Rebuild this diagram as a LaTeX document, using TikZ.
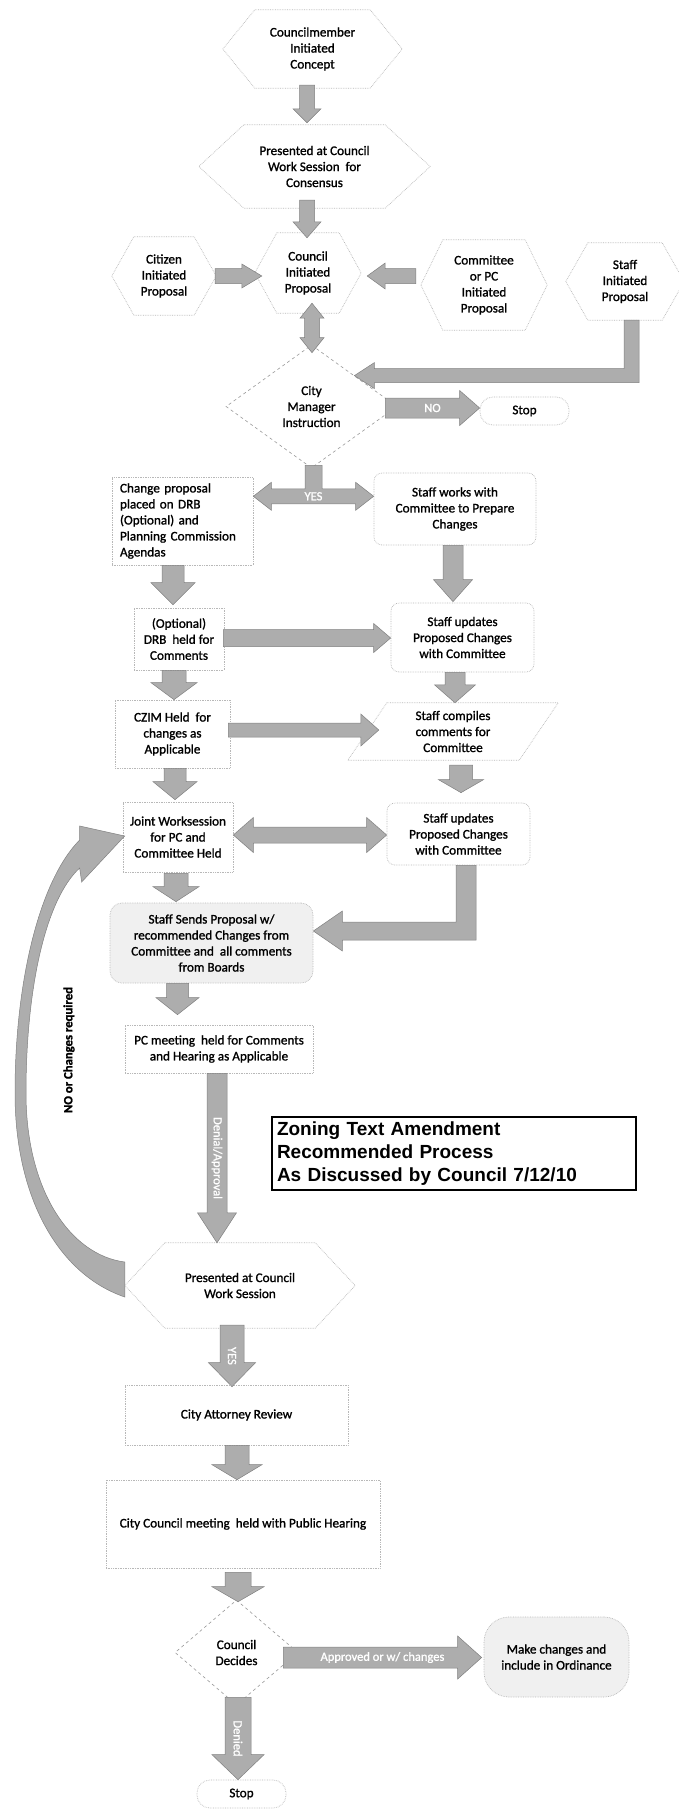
\documentclass[tikz,border=0pt]{standalone}
\usepackage{fontspec}
\setmainfont{Carlito}[FakeBold=1.2]
\newfontfamily\titlefont{Liberation Sans}
\usetikzlibrary{calc,shapes.geometric}

\tikzset{
 nodeline/.style={draw=black!28, densely dotted, line width=0.7pt},
 box/.style={nodeline, align=center, inner sep=2pt, fill=white},
 rbox/.style={box, rounded corners=8pt},
 hextext/.style={align=center, inner sep=0pt},
 plain/.style={align=center, inner sep=0pt},
 dia/.style={diamond, draw=black!40, dashed, line width=0.6pt, align=center, inner sep=0pt, fill=white},
 stopbox/.style={nodeline, rounded corners=13pt, inner sep=0pt, fill=white},
 barrow/.style={fill=black!32, draw=black!50, line width=0.5pt},
 arrlabel/.style={text=white, font=\fontsize{12.5}{14}\selectfont, inner sep=0pt},
 titlebox/.style={draw=black, line width=2pt, font=\titlefont\bfseries\fontsize{19}{23}\selectfont, align=left, text width=354pt, inner xsep=5pt, minimum height=73pt, fill=white},
}

\newcommand\hexnode[7]{%
  \node[hextext, minimum width=#4pt, minimum height=#5pt] (#1) at (#2,#3) {#7};
  \draw[nodeline] ([xshift=#6pt]#1.north west) -- ([xshift=-#6pt]#1.north east) -- (#1.east) -- ([xshift=-#6pt]#1.south east) -- ([xshift=#6pt]#1.south west) -- (#1.west) -- cycle;
}

\newcommand\blkarrow[6]{%
  \path #1 coordinate (bkS) #2 coordinate (bkE);
  \pgfpointdiff{\pgfpointanchor{bkS}{center}}{\pgfpointanchor{bkE}{center}}%
  \pgfgetlastxy{\bkdx}{\bkdy}%
  \pgfmathsetmacro{\bkL}{veclen(\bkdx,\bkdy)}%
  \pgfmathsetmacro{\bkA}{atan2(\bkdy,\bkdx)}%
  \pgfmathsetmacro{\bkB}{\bkL-#5}%
  \draw[barrow, shift={(bkS)}, rotate=\bkA] (0,-#3/2) -- (\bkB,-#3/2) -- (\bkB,-#4/2) -- (\bkL,0) -- (\bkB,#4/2) -- (\bkB,#3/2) -- (0,#3/2) -- cycle;
  \node[arrlabel, rotate=\bkA] at ($(bkS)!0.5!(bkE)$) {#6};
}

\newcommand\dblkarrow[6]{%
  \path #1 coordinate (bkS) #2 coordinate (bkE);
  \pgfpointdiff{\pgfpointanchor{bkS}{center}}{\pgfpointanchor{bkE}{center}}%
  \pgfgetlastxy{\bkdx}{\bkdy}%
  \pgfmathsetmacro{\bkL}{veclen(\bkdx,\bkdy)}%
  \pgfmathsetmacro{\bkA}{atan2(\bkdy,\bkdx)}%
  \pgfmathsetmacro{\bkB}{\bkL-#5}%
  \draw[barrow, shift={(bkS)}, rotate=\bkA] (0,0) -- (#5,-#4/2) -- (#5,-#3/2) -- (\bkB,-#3/2) -- (\bkB,-#4/2) -- (\bkL,0) -- (\bkB,#4/2) -- (\bkB,#3/2) -- (#5,#3/2) -- (#5,#4/2) -- cycle;
  \node[arrlabel, rotate=\bkA] at ($(bkS)!0.5!(bkE)$) {#6};
}

\begin{document}
\begin{tikzpicture}[x=1pt,y=-1pt, every node/.style={font=\fontsize{13.2}{16}\selectfont}]
\useasboundingbox (0,0) rectangle (678,1812);
\fill[white] (0,0) rectangle (678,1812);

% ---------- nodes ----------
\hexnode{cic}{312.5}{49}{179}{78}{32}{Councilmember\\Initiated\\Concept}
\hexnode{pcs}{314.5}{166.5}{231}{83}{45}{Presented at Council\\Work Session\ \ for\\Consensus}
\hexnode{cip}{164}{276}{104}{78}{22}{Citizen\\Initiated\\Proposal}
\hexnode{cop}{308}{273}{106}{80}{22}{Council\\Initiated\\Proposal}
\hexnode{cmp}{484}{285}{126}{90}{22}{Committee\\or PC\\Initiated\\Proposal}
\hexnode{sip}{625}{281.5}{118}{77}{22}{Staff\\Initiated\\Proposal}

\node[dia, minimum width=171pt, minimum height=123pt] (cmi) at (311.5,406.5) {City\\Manager\\Instruction};
\node[stopbox, minimum width=89pt, minimum height=28pt] (stop1) at (524.5,411) {Stop};

\node[box, minimum width=141pt, minimum height=88pt, align=left, text width=125pt, inner xsep=8pt] (cpa) at (182.5,521) {Change proposal\\placed on DRB\\(Optional) and\\Planning Commission\\Agendas};
\node[rbox, minimum width=162pt, minimum height=72pt] (swc) at (455,509) {Staff works with\\Committee to Prepare\\Changes};

\node[box, minimum width=90pt, minimum height=62pt] (drb) at (179,639) {(Optional)\\DRB\ \ held for\\Comments};
\node[rbox, minimum width=143pt, minimum height=69pt] (su1) at (462.5,637.5) {Staff updates\\Proposed Changes\\with Committee};

\node[box, minimum width=115pt, minimum height=68pt] (czim) at (172.5,734) {CZIM Held\ \ for\\changes as\\Applicable};
\node[plain, minimum width=210pt, minimum height=57pt] (sc) at (453,731.5) {Staff compiles\\comments for\\Committee};
\draw[nodeline] ([xshift=39pt]sc.north west) -- (sc.north east) -- ([xshift=-39pt]sc.south east) -- (sc.south west) -- cycle;

\node[box, minimum width=110pt, minimum height=70pt] (jw) at (178,837) {Joint Worksession\\for PC and\\Committee Held};
\node[rbox, minimum width=143pt, minimum height=62pt] (su2) at (458.5,834) {Staff updates\\Proposed Changes\\with Committee};

\node[rbox, fill=black!6, rounded corners=12pt, minimum width=203pt, minimum height=80pt] (ss) at (211.5,943) {Staff Sends Proposal w/\\recommended Changes from\\Committee and\ \ all comments\\from Boards};
\node[box, minimum width=188pt, minimum height=48pt] (pcm) at (219,1049) {PC meeting\ \ held for Comments\\and Hearing as Applicable};

\node[titlebox] (ttl) at (454,1153.5) {Zoning Text Amendment\\Recommended Process\\As Discussed by Council 7/12/10};

\hexnode{pws}{240}{1285.5}{230}{85}{40}{Presented at Council\\Work Session}
\node[box, minimum width=223pt, minimum height=60pt] (car) at (236.5,1415) {City Attorney Review};
\node[box, minimum width=274pt, minimum height=88pt] (ccm) at (243,1524) {City Council meeting\ \ held with Public Hearing};
\node[dia, minimum width=123pt, minimum height=105pt] (cd) at (236.5,1652.5) {Council\\Decides};
\node[rbox, fill=black!6, rounded corners=25pt, minimum width=145pt, minimum height=80pt] (mc) at (556.5,1657) {Make changes and\\include in Ordinance};
\node[stopbox, minimum width=89pt, minimum height=28pt] (stop2) at (241.5,1794) {Stop};

\node[font=\bfseries\fontsize{12.7}{15}\selectfont, rotate=90] (lblno) at (69,1050) {NO or Changes required};

% ---------- block arrows ----------
\blkarrow{($(cic.south)+(-5.5,-3)$)}{($(pcs.north)+(-7.5,-2)$)}{15}{28}{14}{}
\blkarrow{($(pcs.south)+(-7.5,-8)$)}{($(cop.north)+(-1,5)$)}{15}{28}{16}{}
\blkarrow{($(cip.east)+(-1,0)$)}{($(cop.west)+(7,3)$)}{15}{24}{20}{}
\blkarrow{($(cmp.west)+(-5,-9)$)}{($(cop.east)+(6,3)$)}{15}{26}{18}{}
\dblkarrow{($(cop.south)+(4,-10)$)}{($(cmi.north)+(0.5,8)$)}{15}{24}{15}{}

% Staff Initiated -> City Manager (elbow)
\path[barrow] let \p1=($(sip.south)+(6.5,0)$), \p2=(cmi.north east) in
  (\x1-7.5pt,\y1) -- (\x1+7.5pt,\y1) -- (\x1+7.5pt,\y2-7pt) -- (\x2+20pt,\y2-7pt) -- (\x2+20pt,\y2-13pt) -- (\x2,\y2) -- (\x2+20pt,\y2+13pt) -- (\x2+20pt,\y2+7pt) -- (\x1-7.5pt,\y2+7pt) -- cycle;

\blkarrow{($(cmi.east)+(-12,1.5)$)}{($(stop1.west)+(0,-3)$)}{20}{35}{20}{NO}

% YES stem + double arrow
\coordinate (yC) at ($(cmi.south)+(2,28)$);
\path[barrow] let \p1=(yC), \p2=(cpa.east |- yC), \p3=(swc.west |- yC), \p4=($(cmi.south)+(2,-3)$) in
  (\x4-8.5pt,\y4) -- (\x4-8.5pt,\y1+7.5pt) -- (\x2+18pt,\y1+7.5pt) -- (\x2+18pt,\y1+14pt) -- (\x2,\y1) -- (\x2+18pt,\y1-14pt) -- (\x2+18pt,\y1-7.5pt) -- (\x3-18pt,\y1-7.5pt) -- (\x3-18pt,\y1-14pt) -- (\x3,\y1) -- (\x3-18pt,\y1+14pt) -- (\x3-18pt,\y1+7.5pt) -- (\x4+8.5pt,\y1+7.5pt) -- (\x4+8.5pt,\y4) -- cycle;
\node[arrlabel] (yeslbl) at (yC) {YES};

\blkarrow{($(cpa.south)+(-9.5,0)$)}{($(drb.north)+(-6,-3)$)}{22}{44}{22}{}
\blkarrow{($(swc.south)+(-2,0)$)}{($(su1.north)+(-9.5,-1)$)}{20}{39}{22}{}
\blkarrow{($(drb.east)+(-1,-1)$)}{($(su1.west)+(0,0.5)$)}{17}{29}{17}{}
\blkarrow{($(drb.south)+(-5,0)$)}{($(czim.north)+(1.5,0)$)}{24}{46}{17}{}
\blkarrow{($(su1.south)+(-7.5,0)$)}{($(sc.north)+(2,0)$)}{20}{41}{18}{}
\blkarrow{($(czim.east)+(-2,-4)$)}{($(sc.west)+(31,-1.5)$)}{14}{32}{18}{}
\blkarrow{($(czim.south)+(2.5,0)$)}{($(jw.north)+(-3,-2)$)}{22}{44}{18}{}
\blkarrow{($(sc.south)+(8,5)$)}{($(su2.north)+(2.5,-10)$)}{23}{45}{13}{}
\dblkarrow{($(jw.east)+(0,-2)$)}{($(su2.west)+(0,1)$)}{16}{35}{20}{}
\blkarrow{($(jw.south)+(-2,1)$)}{($(ss.north)+(-35.5,-1)$)}{24}{46}{15}{}

% Staff updates -> Staff Sends (elbow)
\path[barrow] let \p1=($(su2.south)+(7.5,0)$), \p2=($(ss.east)+(0,-12)$) in
  (\x1-10pt,\y1) -- (\x1+10pt,\y1) -- (\x1+10pt,\y2-9pt) -- (\x2+29pt,\y2-9pt) -- (\x2+29pt,\y2-20pt) -- (\x2,\y2) -- (\x2+29pt,\y2+20pt) -- (\x2+29pt,\y2+9pt) -- (\x1-10pt,\y2+9pt) -- cycle;

\blkarrow{($(ss.south)+(-34,0)$)}{($(pcm.north)+(-41.5,-10)$)}{22}{43}{17}{}
\blkarrow{($(pcm.south)+(-2,0)$)}{($(pws.north)+(-23,0)$)}{20}{39}{30}{Denial/Approval}

% curved return arrow
\path[barrow] ($(pws.west)+(0,11.5)$)
  .. controls (60,1275) and (15,1200) .. (15,1093)
  .. controls (15,980) and (40,880) .. ($(jw.west)+(-43,3)$)
  -- ($(jw.west)+(-43,-11)$)
  -- ($(jw.west)+(2,-1)$)
  -- ($(jw.west)+(-41,45)$)
  -- ($(jw.west)+(-43,31)$)
  .. controls (45,900) and (26,990) .. (26,1093)
  .. controls (26,1190) and (70,1255) .. ($(pws.west)+(0,-23.5)$)
  -- cycle;

\blkarrow{($(pws.south)+(-8,-3)$)}{($(car.north)+(-4.5,2)$)}{24}{47}{24}{YES}
\blkarrow{($(car.south)+(0.5,0)$)}{($(ccm.north)+(-6,0)$)}{24}{50}{15}{}
\blkarrow{($(ccm.south)+(-5,4)$)}{($(cd.north)+(1.5,2)$)}{26}{52}{15}{}
\blkarrow{($(cd.east)+(-15,5)$)}{($(mc.west)+(-2,0.5)$)}{21}{43}{24}{Approved or w/ changes}
\blkarrow{($(cd.south)+(1.5,-8)$)}{($(stop2.north)+(-3.5,0)$)}{26}{52}{25}{Denied}

\end{tikzpicture}
\end{document}
